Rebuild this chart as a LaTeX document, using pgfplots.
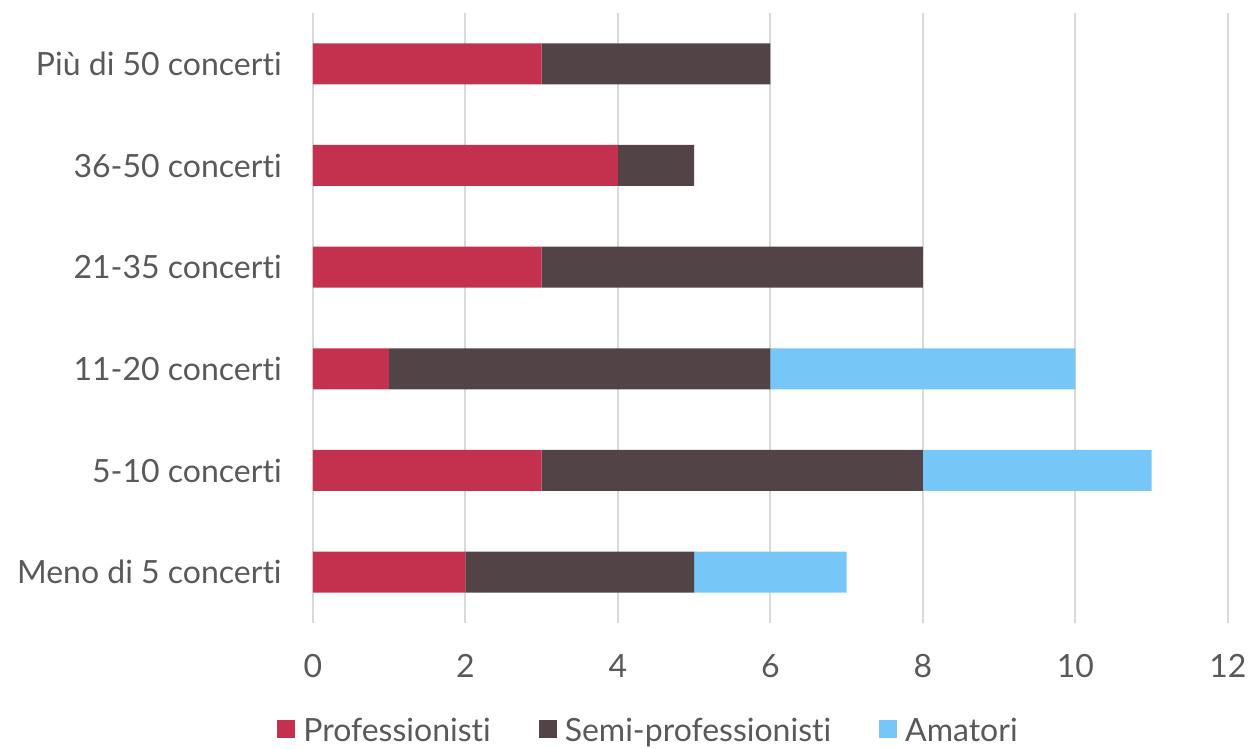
\documentclass[border=0pt]{standalone}
\usepackage{pgfplots}
\pgfplotsset{compat=1.18}
\usepackage{fontspec}
\setmainfont{Lato}[Ligatures={NoCommon,NoContextual}]
\definecolor{prof}{HTML}{C3314F}
\definecolor{semi}{HTML}{514346}
\definecolor{amat}{HTML}{76C7F8}
\definecolor{txt}{HTML}{595959}
\definecolor{gridgray}{HTML}{D9D9D9}
\pgfplotstableread{
y P S A
0 2 3 2
1 3 5 3
2 1 5 4
3 3 5 0
4 4 1 0
5 3 3 0
}\datatab
\begin{document}
\begin{tikzpicture}
\useasboundingbox (-156.5pt,-63pt) rectangle (468.5pt,311.5pt);
\begin{axis}[
  scale only axis, width=457.5pt, height=305pt,
  at={(0,0)}, anchor=south west,
  xmin=0, xmax=12, ymin=-0.5, ymax=5.5,
  xbar stacked, bar width=20.5pt,
  xtick={0,2,...,12}, ytick={0,...,5},
  yticklabels={Meno di 5 concerti,5-10 concerti,11-20 concerti,21-35 concerti,36-50 concerti~,Più di 50 concerti},
  xmajorgrids, ymajorgrids=false,
  major grid style={draw=gridgray, line width=1pt},
  axis line style={draw=none},
  major tick length=0pt,
  tick label style={font=\fontsize{16}{19}\selectfont, text=txt, inner sep=0pt},
  /pgf/number format/assume math mode=true,
  yticklabel style={xshift=-15.5pt},
  xticklabel style={yshift=-15.5pt},
  legend style={at={(axis description cs:0.37,-0.178)}, anchor=center,
    legend columns=3, draw=none, fill=none,
    font=\fontsize{16}{19}\selectfont, text=txt,
    /tikz/every even column/.append style={column sep=20pt},
    nodes={inner sep=0pt, inner xsep=4pt}},
  legend image code/.code={\fill[#1] (0pt,-3pt) rectangle (9pt,6pt);},
]
\addplot[fill=prof, draw=none] table[x=P, y=y] {\datatab};
\addplot[fill=semi, draw=none] table[x=S, y=y] {\datatab};
\addplot[fill=amat, draw=none] table[x=A, y=y] {\datatab};
\legend{Professionisti,Semi-professionisti,Amatori}
\end{axis}
\end{tikzpicture}
\end{document}
